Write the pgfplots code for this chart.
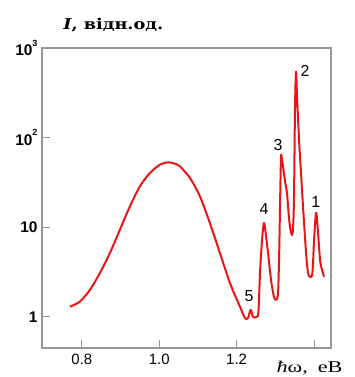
\documentclass[border=0pt]{standalone}
\usepackage{pgfplots}
\pgfplotsset{compat=1.18}
\usepackage{fontspec}
\usepackage{graphicx}
\setmainfont{Liberation Serif}
\setsansfont{Liberation Sans}
\newfontfamily\titlefont{DejaVu Serif}
\definecolor{framegray}{RGB}{150,150,150}
\definecolor{curvered}{RGB}{235,20,20}
\begin{document}
\begin{tikzpicture}
\begin{axis}[
  scale only axis,
  width=289bp, height=300bp,
  ymode=log,
  xmin=0.697, xmax=1.444,
  ymin=0.45, ymax=1000,
  axis line style={framegray, line width=1.1bp},
  tick style={framegray, line width=0.9bp},
  tick align=inside,
  major tick length=8bp,
  minor tick length=0pt,
  xtick={0.8,1.0,1.2,1.4},
  xticklabels={0.8,1.0,1.2,{}},
  ytick={1,10,100,1000},
  yticklabels={{\textbf{1}},{\textbf{10}},{\textbf{10}\raisebox{1.2ex}{\fontsize{9}{9}\selectfont\textbf{2}}},{\textbf{10}\raisebox{1.2ex}{\fontsize{9}{9}\selectfont\textbf{3}}}},
  xticklabel style={font=\sffamily\fontsize{15}{18}\selectfont, yshift=-3bp},
  yticklabel style={font=\sffamily\fontsize{15.5}{18}\selectfont, xshift=-1bp},
  xtick pos=bottom, ytick pos=left,
  clip=false,
]
\addplot[curvered, line width=2bp, line join=round, smooth, tension=0.5] coordinates {
(0.769,1.30) (0.7948,1.48) (0.8207,2.00) (0.8466,3.08) (0.8724,5.15)
(0.8983,9.38) (0.9242,17.1) (0.9501,28.6) (0.9759,40.3) (1.0018,49.9)
(1.0233,53.0) (1.045,50.5) (1.0535,47.8) (1.0794,35.5) (1.1053,22.1)
(1.1311,11.1) (1.157,5.15) (1.1829,2.38) (1.2087,1.30) (1.2217,0.97)
(1.2294,0.97) (1.2364,1.2) (1.2424,1.0) (1.252,1.0) (1.2565,1.15)
(1.2605,3.1) (1.2657,7.2) (1.2709,11.2) (1.2760,8.0)
(1.2812,5.2) (1.2865,3.2) (1.2916,2.16) (1.2970,1.65) (1.3019,1.55) (1.3071,1.85)
(1.3100,5) (1.3122,16.9) (1.3148,61) (1.3175,55) (1.320,47.5) (1.325,33)
(1.3303,24) (1.3340,15) (1.3381,10) (1.3433,8.2) (1.3460,10) (1.3484,22)
(1.351,220) (1.3536,545) (1.3562,286) (1.3614,95) (1.3665,40) (1.3717,17)
(1.3795,5.2) (1.3846,3.1) (1.3898,2.8) (1.395,2.9) (1.3976,4.0) (1.4002,7.2)
(1.4054,14.5) (1.4105,8.7) (1.4157,4.3) (1.4209,3.35) (1.4261,2.8)
};
\node[font=\sffamily\fontsize{16}{18}\selectfont] at (axis cs:1.377,561) {2};
\node[font=\sffamily\fontsize{16}{18}\selectfont] at (axis cs:1.307,83.5) {3};
\node[font=\sffamily\fontsize{16}{18}\selectfont] at (axis cs:1.405,19.3) {1};
\node[font=\sffamily\fontsize{16}{18}\selectfont] at (axis cs:1.271,16.1) {4};
\node[font=\sffamily\fontsize{16}{18}\selectfont] at (axis cs:1.232,1.72) {5};
\node[anchor=west, inner sep=0pt, font=\titlefont\fontsize{15}{17}\selectfont\bfseries] at ([yshift=23bp]rel axis cs:0.073,1) {\scalebox{1.18}[1]{\textit{I}, відн.од.}};
\node[anchor=west, inner sep=0pt, font=\fontsize{16.5}{19}\selectfont] at ([yshift=-20bp]rel axis cs:0.811,0) {\scalebox{1.35}[1]{\textit{ħ}ω,\hspace{0.45em}еВ}};
\end{axis}
\pgfresetboundingbox
\path ([shift={(-42bp,-29bp)}]current axis.south west) rectangle ([shift={(24bp,48bp)}]current axis.north east);
\end{tikzpicture}
\end{document}
